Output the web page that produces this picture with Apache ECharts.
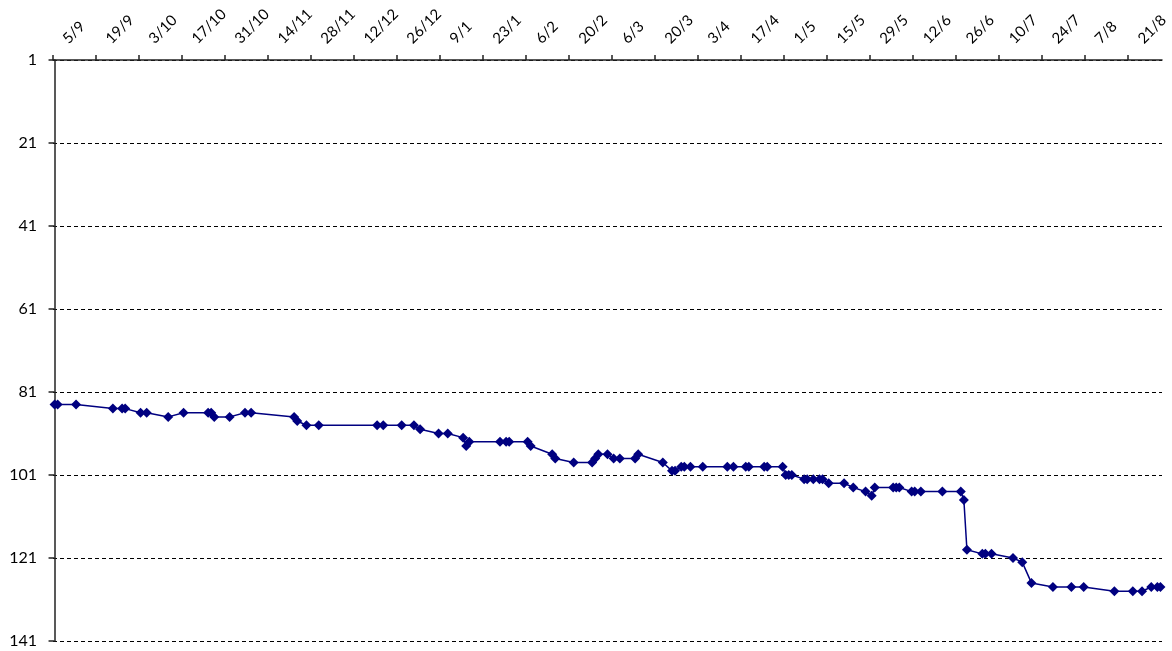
<!DOCTYPE html>
<html>
<head>
<meta charset="utf-8">
<style>
  html, body { margin: 0; padding: 0; background: #fff; }
  #chart { width: 1172px; height: 651px; }
</style>
<script src="https://cdn.jsdelivr.net/npm/echarts@6.0.0/dist/echarts.min.js"></script>
</head>
<body>
<div id="chart"></div>
<script>
// first day of the season, x axis counts days from here
const startDate = '2009-09-05'
const lastDate = '2010-08-31'

const dates = [
  '2009-09-05', '2009-09-06', '2009-09-12', '2009-09-24', '2009-09-27', '2009-09-28',
  '2009-10-03', '2009-10-05', '2009-10-12', '2009-10-17', '2009-10-25', '2009-10-26',
  '2009-10-27', '2009-11-01', '2009-11-06', '2009-11-08', '2009-11-22', '2009-11-23',
  '2009-11-26', '2009-11-30', '2009-12-19', '2009-12-21', '2009-12-27', '2009-12-31',
  '2010-01-02', '2010-01-08', '2010-01-11', '2010-01-16', '2010-01-17', '2010-01-18',
  '2010-01-28', '2010-01-30', '2010-01-31', '2010-02-06', '2010-02-07', '2010-02-14',
  '2010-02-15', '2010-02-21', '2010-02-27', '2010-02-28', '2010-03-01', '2010-03-04',
  '2010-03-06', '2010-03-08', '2010-03-13', '2010-03-14', '2010-03-22', '2010-03-25',
  '2010-03-26', '2010-03-28', '2010-03-29', '2010-03-31', '2010-04-04', '2010-04-12',
  '2010-04-14', '2010-04-18', '2010-04-19', '2010-04-24', '2010-04-25', '2010-04-30',
  '2010-05-01', '2010-05-02', '2010-05-03', '2010-05-07', '2010-05-08', '2010-05-10',
  '2010-05-12', '2010-05-13', '2010-05-15', '2010-05-20', '2010-05-23', '2010-05-27',
  '2010-05-29', '2010-05-30', '2010-06-05', '2010-06-06', '2010-06-07', '2010-06-11',
  '2010-06-12', '2010-06-14', '2010-06-21', '2010-06-27', '2010-06-28', '2010-06-29',
  '2010-07-04', '2010-07-05', '2010-07-07', '2010-07-14', '2010-07-17', '2010-07-20',
  '2010-07-27', '2010-08-02', '2010-08-06', '2010-08-16', '2010-08-22', '2010-08-25',
  '2010-08-28', '2010-08-30', '2010-08-31'
]

const ranks = [
  84, 84, 84, 85, 85, 85,
  86, 86, 87, 86, 86, 86,
  87, 87, 86, 86, 87, 88,
  89, 89, 89, 89, 89, 89,
  90, 91, 91, 92, 94, 93,
  93, 93, 93, 93, 94, 96,
  97, 98, 98, 97, 96, 96,
  97, 97, 97, 96, 98, 100,
  100, 99, 99, 99, 99, 99,
  99, 99, 99, 99, 99, 99,
  101, 101, 101, 102, 102, 102,
  102, 102, 103, 103, 104, 105,
  106, 104, 104, 104, 104, 105,
  105, 105, 105, 105, 107, 119,
  120, 120, 120, 121, 122, 127,
  128, 128, 128, 129, 129, 129,
  128, 128, 128
]

const tickLabels = [
  '5/9', '19/9', '3/10', '17/10', '31/10', '14/11', '28/11', '12/12', '26/12',
  '9/1', '23/1', '6/2', '20/2', '6/3', '20/3', '3/4', '17/4', '1/5', '15/5',
  '29/5', '12/6', '26/6', '10/7', '24/7', '7/8', '21/8'
]

function dayOf(d) {
  return (Date.parse(d + 'T00:00:00Z') - Date.parse(startDate + 'T00:00:00Z')) / 86400000
}

const lastDay = dayOf(lastDate)
const labelShift = 3.5 // labels sit a little right of each 14-day tick
const tickValues = tickLabels.map((l, i) => i * 14 - 0.5)
const labelValues = tickLabels.map((l, i) => i * 14 + labelShift)

const chart = echarts.init(document.getElementById('chart'))

chart.setOption({
  animation: false,
  backgroundColor: '#fff',
  grid: {
    left: 53,
    right: 10,
    top: 60,
    bottom: 10,
    containLabel: false,
    outerBoundsMode: 'none'
  },
  xAxis: {
    type: 'value',
    position: 'top',
    min: -0.5,
    max: lastDay + 0.5,
    axisLine: { show: true, lineStyle: { color: '#222', width: 1.5 } },
    axisTick: {
      show: true,
      length: 5,
      customValues: tickValues,
      lineStyle: { color: '#222', width: 1.5 }
    },
    axisLabel: {
      customValues: labelValues,
      rotate: -45,
      margin: 19,
      fontFamily: 'Lato',
      fontSize: 15,
      color: '#000',
      formatter: v => tickLabels[Math.round((v - labelShift) / 14)]
    },
    splitLine: { show: false }
  },
  yAxis: {
    type: 'value',
    inverse: true,
    min: 1,
    max: 141,
    interval: 20,
    axisLine: { show: true, lineStyle: { color: '#222', width: 1.5 } },
    axisTick: { show: true, length: 6, lineStyle: { color: '#222', width: 1.5 } },
    axisLabel: {
      margin: 16,
      fontFamily: 'Lato',
      fontSize: 16,
      color: '#000'
    },
    splitLine: {
      show: true,
      lineStyle: { color: '#000', width: 1, type: [4, 3] }
    }
  },
  series: [
    {
      type: 'line',
      data: dates.map((d, i) => [dayOf(d), ranks[i]]),
      symbol: 'diamond',
      symbolSize: 10,
      showAllSymbol: true,
      lineStyle: { color: '#000080', width: 1.5 },
      itemStyle: { color: '#000080' }
    }
  ]
})
</script>
</body>
</html>
